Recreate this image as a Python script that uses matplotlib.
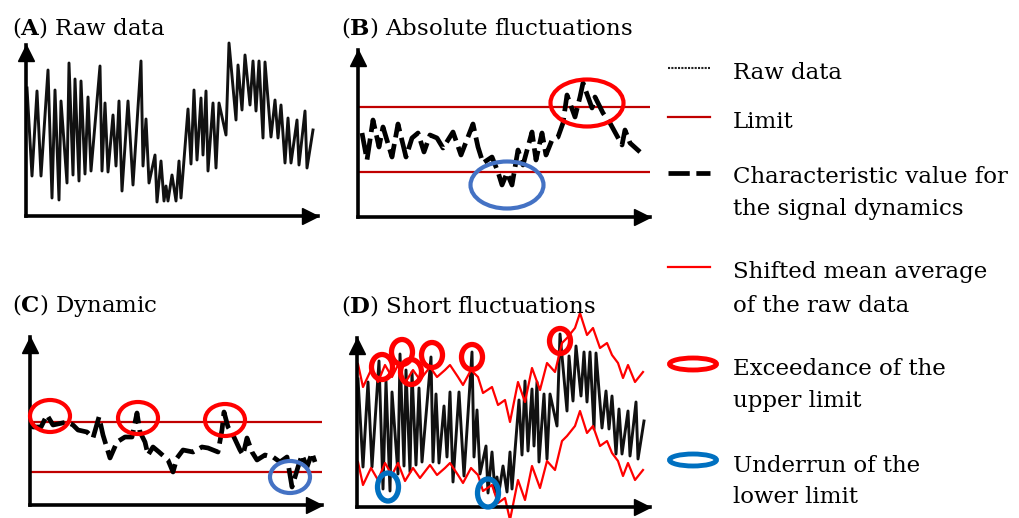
import matplotlib
matplotlib.use("Agg")
import matplotlib.pyplot as plt
from matplotlib.patches import Ellipse

W, H = 1019, 518

# (A) raw data, x/y in units above the axis origin
raw_x = [1, 6, 11, 15, 22, 26, 29, 33, 35, 41,
         43, 47, 49, 53, 55, 59, 62, 65, 74, 76,
         79, 82, 87, 90, 93, 96, 102, 107, 115, 117,
         120, 123, 129, 131, 135, 138, 140, 142, 146, 150,
         153, 155, 162, 165, 168, 171, 175, 177, 180, 182,
         187, 190, 193, 200, 203, 210, 212, 216, 219, 224,
         227, 230, 233, 237, 239, 245, 249, 252, 255, 259,
         262, 265, 271, 273, 279, 281, 287]
raw_y = [128, 40, 125, 40, 146, 18, 126, 16, 115, 33,
         153, 41, 137, 35, 135, 42, 119, 45, 150, 45,
         113, 44, 101, 50, 115, 25, 115, 31, 155, 50,
         97, 33, 61, 14, 55, 15, 30, 15, 41, 15,
         55, 18, 107, 52, 126, 56, 118, 61, 125, 45,
         113, 48, 113, 81, 173, 96, 151, 106, 161, 111,
         155, 105, 155, 78, 154, 79, 116, 78, 111, 53,
         98, 53, 96, 51, 105, 48, 86]

# (B) characteristic value for the signal dynamics
char_x = [4, 9, 15, 21, 25, 34, 40, 48, 54, 60, 66, 72, 79, 85, 95,
          103, 115, 120, 125, 134, 140, 144, 149, 154, 160, 165, 174, 178, 184, 188,
          194, 200, 205, 209, 217, 222, 225, 234, 237, 245, 252, 264, 267, 272, 282]
char_y = [84, 57, 97, 70, 90, 60, 93, 60, 79, 84, 65, 82, 79, 69, 85,
          62, 93, 70, 54, 60, 45, 32, 44, 32, 67, 52, 85, 57, 84, 62,
          77, 80, 94, 122, 100, 120, 134, 109, 120, 104, 94, 72, 87, 74, 65]
limits_b = [45, 110]

# (C) dynamic
dyn_x = [2, 3, 11, 17, 23, 37, 43, 48, 57, 63, 69, 73, 80, 87, 95,
         102, 107, 110, 115, 118, 123, 129, 138, 143, 147, 153, 163, 172, 178, 188,
         192, 194, 198, 203, 210, 213, 217, 222, 227, 235, 243, 250, 257, 262, 268,
         272, 277, 282, 285]
dyn_y = [82, 78, 78, 90, 80, 83, 80, 75, 73, 67, 88, 70, 47, 63, 68,
         68, 92, 73, 63, 50, 58, 53, 45, 33, 47, 55, 53, 58, 57, 53,
         75, 93, 78, 70, 55, 50, 67, 53, 45, 50, 48, 43, 48, 18, 38,
         50, 38, 52, 43]
limits_c = [33, 83]

# (D) mean average of the raw data, shifted up and down
mean_x = [1, 6, 14, 21, 28, 35, 41, 48, 56, 63, 73, 80, 88, 93, 101,
          106, 114, 121, 126, 135, 141, 148, 153, 161, 168, 175, 183, 190, 198, 205,
          210, 218, 223, 230, 236, 243, 250, 255, 261, 266, 271, 278, 286]
mean_y = [94, 71, 88, 76, 93, 81, 93, 75, 88, 78, 91, 81, 88, 93, 81,
          73, 88, 81, 65, 71, 53, 58, 36, 76, 56, 90, 68, 95, 86, 115,
          120, 130, 145, 123, 130, 110, 115, 103, 95, 80, 93, 76, 86]
shift = 49

# marked exceedances / underruns (centres)
exc_b, und_b = [(229, 114)], [(149, 32)]
exc_c, und_c = [(20, 89), (108, 87), (195, 85)], [(260, 28)]
exc_d = [(25, 140), (45, 155), (54, 135), (75, 152), (115, 150), (203, 166)]
und_d = [(31, 20), (131, 14)]

titles = ["A", "B", "C", "D"]
title_text = ["Raw data", "Absolute fluctuations", "Dynamic", "Short fluctuations"]

RED = "#FF0000"
DARKRED = "#C00000"
BLUE_L = "#4472C4"
BLUE = "#0070C0"

plt.rcParams["font.family"] = "DejaVu Serif"
plt.rcParams["mathtext.fontset"] = "dejavuserif"
FS = 16.5

fig = plt.figure(figsize=(W / 100, H / 100), dpi=100)


def panel(x0, y0, x1, y1):
    ax = fig.add_axes([x0 / W, (H - y0) / H, (x1 - x0) / W, (y0 - y1) / H])
    xmax, ymax = x1 - x0, y0 - y1
    ax.set_xlim(0, xmax)
    ax.set_ylim(0, ymax)
    for s in ["top", "right"]:
        ax.spines[s].set_visible(False)
    for s in ["left", "bottom"]:
        ax.spines[s].set_linewidth(2.6)
    ax.set_xticks([])
    ax.set_yticks([])
    ax.patch.set_alpha(0)
    ax.plot(xmax - 8, 0, ">k", ms=12, clip_on=False)
    ax.plot(0, ymax - 8, "^k", ms=12, clip_on=False)
    return ax


def rings(ax, centres, w, h, color, lw):
    for cx, cy in centres:
        ax.add_patch(Ellipse((cx, cy), w, h, fill=False, ec=color, lw=lw,
                             clip_on=False, zorder=5))


dash = dict(color="black", lw=3.4, dashes=(4.5, 1.4), dash_capstyle="butt",
            solid_joinstyle="miter", clip_on=False)

# A
axA = panel(26, 216, 318, 45)
axA.plot(raw_x, raw_y, color="#111111", lw=2.1, clip_on=False)

# B
axB = panel(358, 217, 650, 50)
for v in limits_b:
    axB.axhline(v, color=DARKRED, lw=1.6)
axB.plot(char_x, char_y, **dash)
rings(axB, exc_b, 73, 47, RED, 3.0)
rings(axB, und_b, 73, 47, BLUE_L, 3.0)

# C
axC = panel(30, 505, 322, 337)
for v in limits_c:
    axC.axhline(v, color=DARKRED, lw=1.6)
axC.plot(dyn_x, dyn_y, **dash)
rings(axC, exc_c, 40, 32, RED, 3.0)
rings(axC, und_c, 40, 32, BLUE_L, 3.0)

# D
axD = panel(357, 507, 650, 338)
axD.plot(raw_x, raw_y, color="#111111", lw=2.1, clip_on=False)
axD.plot(mean_x, [m + shift for m in mean_y], color=RED, lw=1.6, clip_on=False)
axD.plot(mean_x, [m - shift for m in mean_y], color=RED, lw=1.6, clip_on=False)
rings(axD, exc_d, 21, 25, RED, 3.8)
rings(axD, und_d, 21, 28, BLUE, 3.8)

# titles
title_pos = [(12, 35), (341, 35), (12, 312), (341, 312)]
for (tx, ty), k, t in zip(title_pos, titles, title_text):
    fig.text(tx / W, 1 - ty / H, r"($\mathbf{%s}$) %s" % (k, t), fontsize=FS,
             ha="left", va="baseline")

# key
key = fig.add_axes([0, 0, 1, 1], zorder=-1)
key.set_xlim(0, W)
key.set_ylim(H, 0)
key.axis("off")
key.plot([668, 710], [68, 68], color="#222222", lw=1.5, dashes=(1, 0.6))
key.plot([668, 710], [117, 117], color=DARKRED, lw=1.6)
key.plot([668, 710], [173, 173], color="black", lw=3.4, dashes=(4.5, 1.4),
         dash_capstyle="butt")
key.plot([668, 710], [267, 267], color=RED, lw=1.6)
key.add_patch(Ellipse((693, 364), 47, 12, fill=False, ec=RED, lw=3.5))
key.add_patch(Ellipse((693, 460), 47, 12, fill=False, ec=BLUE, lw=3.5))

key_lines = [("Raw data", 79), ("Limit", 128), ("Characteristic value for", 183),
             ("the signal dynamics", 215), ("Shifted mean average", 278),
             ("of the raw data", 312), ("Exceedance of the", 375),
             ("upper limit", 407), ("Underrun of the", 472), ("lower limit", 503)]
for txt, by in key_lines:
    key.text(733, by, txt, fontsize=FS, ha="left", va="baseline")

fig.savefig("out.png", dpi=100)
